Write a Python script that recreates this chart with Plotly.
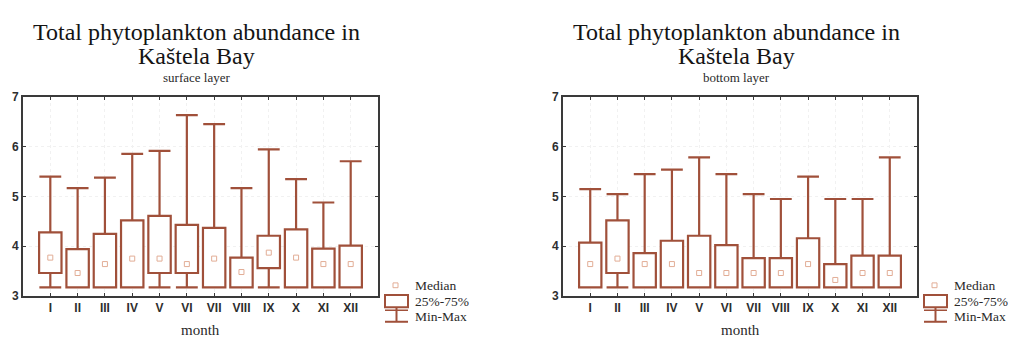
import plotly.graph_objects as go

months = ["I", "II", "III", "IV", "V", "VI", "VII", "VIII", "IX", "X", "XI", "XII"]

# surface layer
surf_min = [3.17, 3.17, 3.17, 3.17, 3.17, 3.17, 3.17, 3.17, 3.17, 3.17, 3.17, 3.17]
surf_q1 = [3.46, 3.17, 3.17, 3.17, 3.46, 3.46, 3.17, 3.17, 3.56, 3.17, 3.17, 3.17]
surf_med = [3.77, 3.46, 3.64, 3.75, 3.75, 3.64, 3.75, 3.48, 3.87, 3.77, 3.64, 3.64]
surf_q3 = [4.28, 3.94, 4.25, 4.52, 4.61, 4.43, 4.37, 3.77, 4.21, 4.34, 3.95, 4.01]
surf_max = [5.40, 5.17, 5.38, 5.86, 5.92, 6.64, 6.46, 5.17, 5.95, 5.35, 4.88, 5.71]

# bottom layer
bot_min = [3.17, 3.17, 3.17, 3.17, 3.17, 3.17, 3.17, 3.17, 3.17, 3.17, 3.17, 3.17]
bot_q1 = [3.17, 3.46, 3.17, 3.17, 3.17, 3.17, 3.17, 3.17, 3.17, 3.17, 3.17, 3.17]
bot_med = [3.64, 3.75, 3.64, 3.64, 3.46, 3.46, 3.46, 3.46, 3.64, 3.32, 3.46, 3.46]
bot_q3 = [4.07, 4.52, 3.86, 4.11, 4.21, 4.02, 3.76, 3.76, 4.16, 3.64, 3.81, 3.81]
bot_max = [5.15, 5.05, 5.45, 5.54, 5.79, 5.45, 5.05, 4.95, 5.40, 4.95, 4.95, 5.79]

titles = ["surface layer", "bottom layer"]

BROWN = "#a0503a"
MED = "#e2ad96"
FRAME = "#3a3a3a"
W, H = 1016, 347
SERIF = "Liberation Serif, Times New Roman, serif"
SANS = "Liberation Sans, Arial, sans-serif"

fig = go.Figure()
xpos = list(range(1, 13))
BOXW = 0.82
CAPW = 0.80

datasets = [
    (surf_min, surf_q1, surf_med, surf_q3, surf_max),
    (bot_min, bot_q1, bot_med, bot_q3, bot_max),
]

for k, (mn, q1, md, q3, mx) in enumerate(datasets):
    xa = "x" if k == 0 else "x2"
    ya = "y" if k == 0 else "y2"
    wx, wy = [], []
    for i, x in enumerate(xpos):
        wx += [x, x, None, x - CAPW / 2, x + CAPW / 2, None]
        wy += [q3[i], mx[i], None, mx[i], mx[i], None]
        if mn[i] < q1[i] - 0.01:
            wx += [x, x, None, x - CAPW / 2, x + CAPW / 2, None]
            wy += [mn[i], q1[i], None, mn[i], mn[i], None]
    fig.add_trace(go.Bar(
        x=xpos, y=[b - a for a, b in zip(q1, q3)], base=q1, width=BOXW,
        marker=dict(color="white", line=dict(color=BROWN, width=2.2)),
        xaxis=xa, yaxis=ya, showlegend=False, hoverinfo="skip"))
    fig.add_trace(go.Scatter(
        x=wx, y=wy, mode="lines", line=dict(color=BROWN, width=2.2),
        xaxis=xa, yaxis=ya, showlegend=False, hoverinfo="skip"))
    fig.add_trace(go.Scatter(
        x=xpos, y=md, mode="markers",
        marker=dict(symbol="square-open", size=5, color=MED, line=dict(width=1, color=MED)),
        xaxis=xa, yaxis=ya, showlegend=False, hoverinfo="skip"))


def px(x):
    return x / W


def py(y):
    return 1 - y / H


axis_common = dict(
    showline=True, linecolor=FRAME, linewidth=2, mirror="ticks",
    ticks="inside", ticklen=3, tickcolor=FRAME,
    showgrid=True, gridcolor="#f1f1f1", griddash="dot", gridwidth=1,
    zeroline=False,
    tickfont=dict(family=SANS, size=12, color="#2e2e2e", weight="bold"),
)

domains = [(23, 378), (563, 917)]
for k, (l, r) in enumerate(domains):
    sfx = "" if k == 0 else "2"
    fig.update_layout(**{
        "xaxis" + sfx: dict(axis_common, domain=[px(l), px(r)], range=[0, 13],
                            tickmode="array", tickvals=xpos, ticktext=months,
                            anchor="y" + sfx),
        "yaxis" + sfx: dict(axis_common, domain=[py(301), py(94)], range=[3, 7],
                            tickvals=[3, 4, 5, 6, 7], anchor="x" + sfx),
    })

annotations = []
shapes = []
for k, (l, r) in enumerate(domains):
    cx = (l + r) / 2 - 4
    annotations.append(dict(text="Total phytoplankton abundance in", x=px(cx), y=py(26),
                            xref="paper", yref="paper", showarrow=False,
                            xanchor="center", yanchor="middle",
                            font=dict(family=SERIF, size=24, color="#141414")))
    annotations.append(dict(text="Kaštela Bay", x=px(cx), y=py(51),
                            xref="paper", yref="paper", showarrow=False,
                            xanchor="center", yanchor="middle",
                            font=dict(family=SERIF, size=24, color="#141414")))
    annotations.append(dict(text=titles[k], x=px(cx), y=py(73),
                            xref="paper", yref="paper", showarrow=False,
                            xanchor="center", yanchor="middle",
                            font=dict(family=SERIF, size=13, color="#2a2a2a")))
    annotations.append(dict(text="month", x=px((l + r) / 2), y=py(337),
                            xref="paper", yref="paper", showarrow=False,
                            xanchor="center", yanchor="middle",
                            font=dict(family=SERIF, size=15, color="#2a2a2a")))
    # legend
    lx = r + 7
    shapes.append(dict(type="rect", xref="paper", yref="paper",
                       x0=px(lx + 8), x1=px(lx + 13), y0=py(287.5), y1=py(292.5),
                       line=dict(color=MED, width=1)))
    shapes.append(dict(type="rect", xref="paper", yref="paper",
                       x0=px(lx), x1=px(lx + 23), y0=py(313), y1=py(300),
                       line=dict(color=BROWN, width=2)))
    shapes.append(dict(type="line", xref="paper", yref="paper",
                       x0=px(lx + 11.5), x1=px(lx + 11.5), y0=py(313), y1=py(328),
                       line=dict(color=BROWN, width=2)))
    shapes.append(dict(type="line", xref="paper", yref="paper",
                       x0=px(lx), x1=px(lx + 23), y0=py(328), y1=py(328),
                       line=dict(color=BROWN, width=2)))
    shapes.append(dict(type="line", xref="paper", yref="paper",
                       x0=px(lx), x1=px(lx + 23), y0=py(316), y1=py(316),
                       line=dict(color=BROWN, width=1.5)))
    for txt, yy in [("Median", 290), ("25%-75%", 307), ("Min-Max", 322)]:
        annotations.append(dict(text=txt, x=px(lx + 28), y=py(yy),
                                xref="paper", yref="paper", showarrow=False,
                                xanchor="left", yanchor="middle",
                                font=dict(family=SERIF, size=13.5, color="#2a2a2a")))

fig.update_layout(
    width=W, height=H, margin=dict(l=0, r=0, t=0, b=0),
    paper_bgcolor="white", plot_bgcolor="white",
    annotations=annotations, shapes=shapes, showlegend=False,
    barmode="overlay",
)

fig.write_html("out.html")
